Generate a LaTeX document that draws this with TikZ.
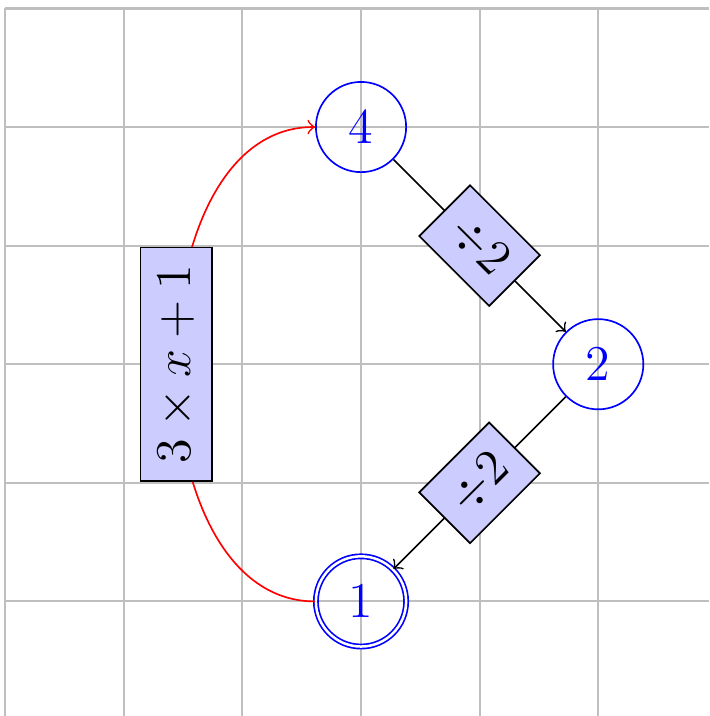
\documentclass[tikz,border=0pt]{standalone}
\begin{document}
\begin{tikzpicture}[
  every node/.style={font=\large,inner sep=4.25pt},
  state/.style={circle,draw=blue,text=blue},
  lab/.style={draw=black,text=black,fill=blue!20,sloped},
  gridline/.style={gray!50,line width=0.5pt}
]
\useasboundingbox (-3.044,-4.966) rectangle (2.934,1.071);
\clip (-3.044,-4.966) rectangle (2.934,1.071);
\draw[gridline] (-3,-5) grid (3,1);
\node[state] (n4) at (0,0) {$4$};
\node[state] (n2) at (2,-2) {$2$};
\node[state,double] (n1) at (0,-4) {$1$};
\draw[->] (n4) -- node[lab]{$\div 2$} (n2);
\draw[->] (n2) -- node[lab]{$\div 2$} (n1);
\draw[->,red] (n1) to[out=180,in=180] node[lab]{$3\times x+1$} (n4);
\end{tikzpicture}
\end{document}
